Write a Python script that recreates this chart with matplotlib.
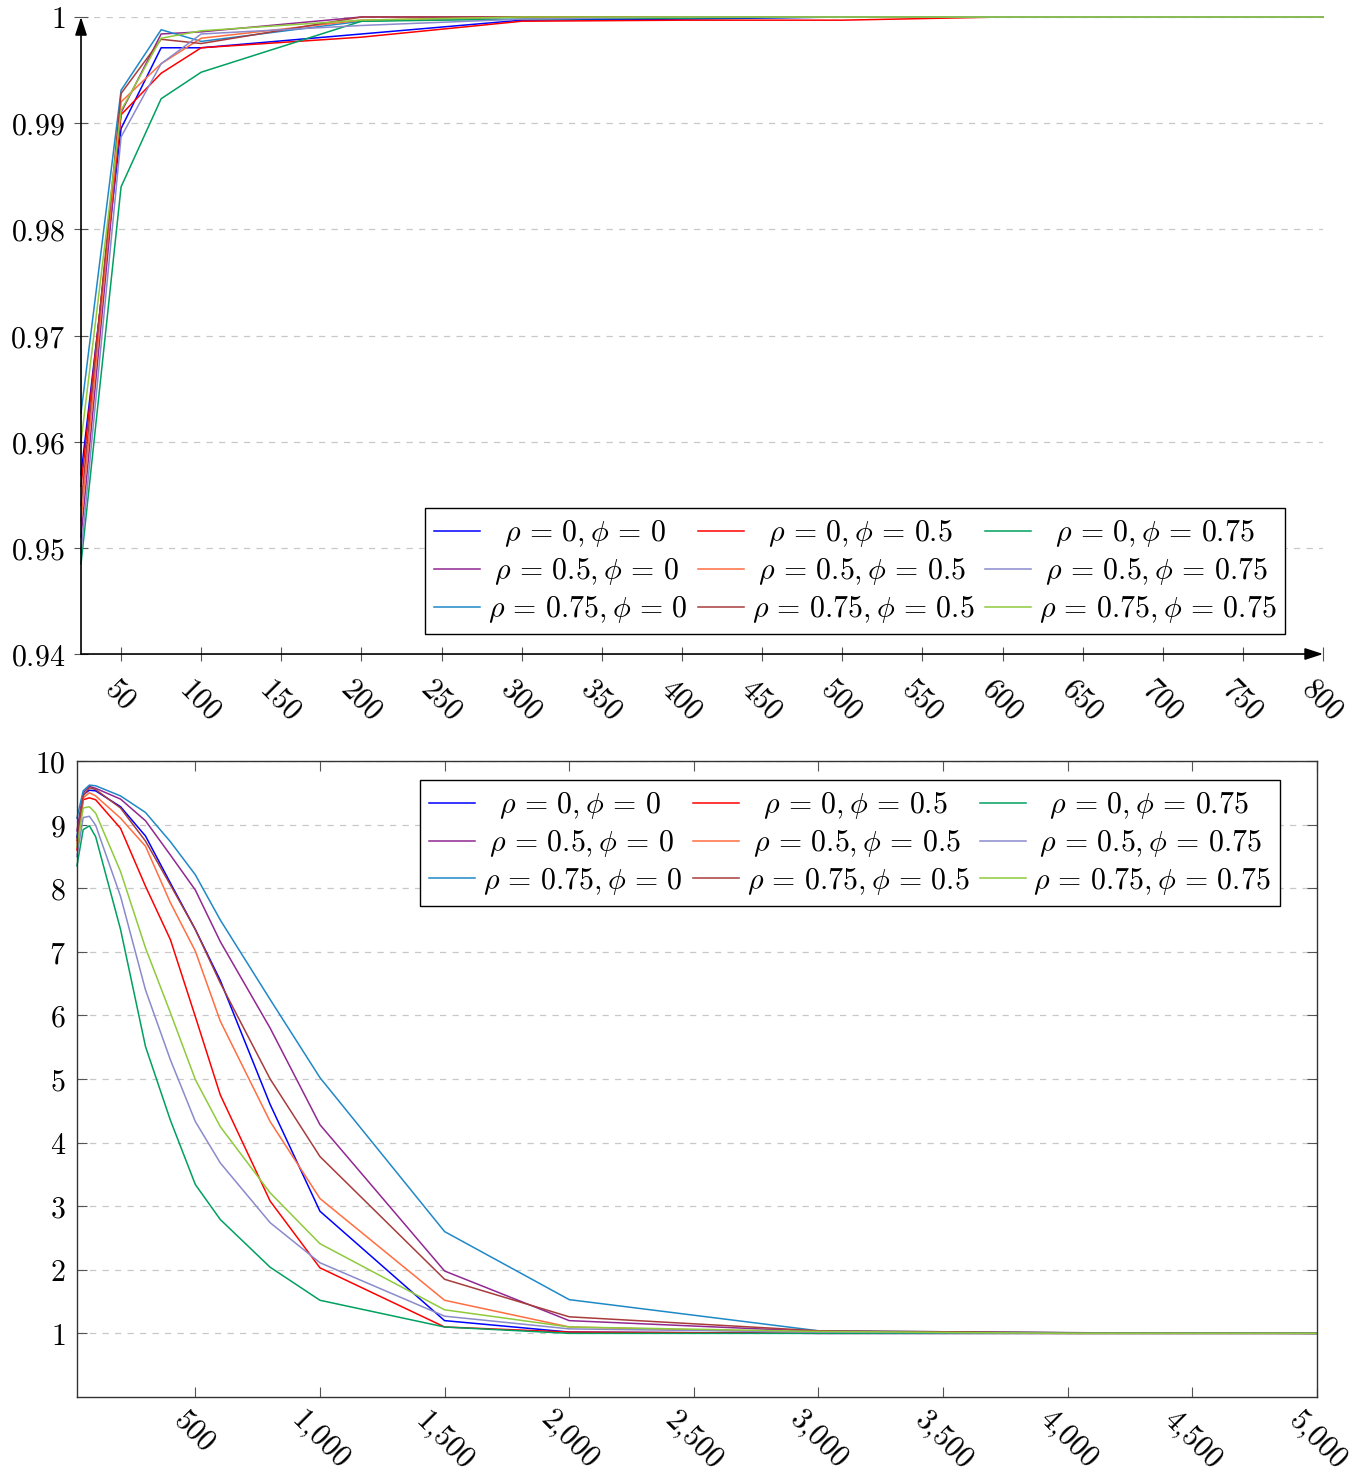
import matplotlib.pyplot as plt
from matplotlib.ticker import FuncFormatter

plt.rcParams['mathtext.fontset'] = 'cm'

rhos = [0, 0.5, 0.75]
phis = [0, 0.5, 0.75]

# upper panel: values reaching 1 as n grows
n_top = [25, 50, 75, 100, 200, 300, 400, 500, 600, 700, 800]
top_0_0 = [0.9569, 0.9895, 0.9971, 0.9971, 0.9984, 0.9997, 0.9998, 1, 1, 1, 1]
top_0_05 = [0.9558, 0.9908, 0.9947, 0.9971, 0.9981, 0.9996, 0.9997, 0.9997, 1, 1, 1]
top_0_075 = [0.9485, 0.984, 0.9923, 0.9948, 0.9996, 0.9998, 0.9999, 1, 1, 1, 1]
top_05_0 = [0.951, 0.9910, 0.9984, 0.9986, 1, 1, 1, 1, 1, 1, 1]
top_05_05 = [0.9525, 0.9920, 0.9956, 0.9980, 0.9997, 1, 1, 1, 1, 1, 1]
top_05_075 = [0.9495, 0.9887, 0.9956, 0.9984, 0.9992, 0.9998, 1, 1, 1, 1, 1]
top_075_0 = [0.9627, 0.9931, 0.9988, 0.9977, 0.9996, 1, 1, 1, 1, 1, 1]
top_075_05 = [0.954, 0.9928, 0.9979, 0.9975, 1, 1, 1, 1, 1, 1, 1]
top_075_075 = [0.9600, 0.9912, 0.9980, 0.9987, 0.9997, 1, 1, 1, 1, 1, 1]

# lower panel
n_bot = [25, 50, 75, 100, 200, 300, 400, 500, 600, 800, 1000, 1500, 2000, 3000, 4000, 5000]
bot_0_0 = [8.8, 9.47, 9.54, 9.53, 9.28, 8.82, 8.08, 7.35, 6.55, 4.6, 2.92, 1.20, 1.02, 1.0, 1.0, 1.0]
bot_0_05 = [8.6, 9.39, 9.42, 9.39, 8.94, 8.03, 7.19, 5.98, 4.75, 3.08, 2.03, 1.10, 1.02, 1.0, 1.0, 1.0]
bot_0_075 = [8.35, 8.92, 8.98, 8.81, 7.35, 5.51, 4.35, 3.34, 2.79, 2.04, 1.52, 1.10, 1.0, 1.0, 1.0, 1.0]
bot_05_0 = [8.9, 9.5, 9.60, 9.57, 9.40, 9.06, 8.52, 7.97, 7.16, 5.8, 4.28, 1.98, 1.20, 1.03, 1.01, 1.0]
bot_05_05 = [8.7, 9.42, 9.50, 9.45, 9.10, 8.66, 7.77, 7.01, 5.91, 4.33, 3.12, 1.52, 1.10, 1.01, 1.0, 1.0]
bot_05_075 = [8.5, 9.11, 9.13, 8.99, 7.87, 6.40, 5.30, 4.33, 3.68, 2.74, 2.11, 1.27, 1.07, 1.02, 1.0, 1.0]
bot_075_0 = [9.1, 9.53, 9.62, 9.61, 9.45, 9.19, 8.73, 8.21, 7.50, 6.25, 5.02, 2.60, 1.53, 1.04, 1.01, 1.0]
bot_075_05 = [8.75, 9.45, 9.58, 9.55, 9.26, 8.74, 8.05, 7.35, 6.51, 5.0, 3.78, 1.85, 1.26, 1.04, 1.01, 1.0]
bot_075_075 = [8.65, 9.26, 9.28, 9.18, 8.26, 7.06, 6.04, 4.99, 4.25, 3.21, 2.41, 1.37, 1.10, 1.03, 1.0, 1.0]

top = {(0, 0): top_0_0, (0, 0.5): top_0_05, (0, 0.75): top_0_075,
       (0.5, 0): top_05_0, (0.5, 0.5): top_05_05, (0.5, 0.75): top_05_075,
       (0.75, 0): top_075_0, (0.75, 0.5): top_075_05, (0.75, 0.75): top_075_075}
bot = {(0, 0): bot_0_0, (0, 0.5): bot_0_05, (0, 0.75): bot_0_075,
       (0.5, 0): bot_05_0, (0.5, 0.5): bot_05_05, (0.5, 0.75): bot_05_075,
       (0.75, 0): bot_075_0, (0.75, 0.5): bot_075_05, (0.75, 0.75): bot_075_075}

colors = {(0, 0): '#0000ff', (0, 0.5): '#ff0000', (0, 0.75): '#00a060',
          (0.5, 0): '#912891', (0.5, 0.5): '#ff6e40', (0.5, 0.75): '#8a8acc',
          (0.75, 0): '#1f88c8', (0.75, 0.5): '#a83c3c', (0.75, 0.75): '#8fca3c'}

# shift shorter labels right so they sit centred in their legend column
label_shift = {0: 0.62, 0.5: 0.24, 0.75: 0}

FS = 21.5
GRID = dict(color='#c8c8c8', linestyle=(0, (5, 5)), linewidth=0.9)


def label(rho, phi):
    eq = r'\hspace{0.16}=\hspace{0.16}'
    return r'$\hspace{%g}\rho%s%g, \phi%s%g$' % (label_shift[rho], eq, rho, eq, phi)


def draw_lines(ax, n, data):
    # columns of the legend run over phi, rows over rho
    for phi in phis:
        for rho in rhos:
            ax.plot(n, data[(rho, phi)], color=colors[(rho, phi)], lw=1.1,
                    clip_on=False, label=label(rho, phi))


def add_legend(ax, loc, anchor):
    leg = ax.legend(ncol=3, loc=loc, bbox_to_anchor=anchor, borderaxespad=0,
                    fontsize=FS, fancybox=False, edgecolor='black', framealpha=1,
                    handlelength=1.55, handletextpad=0.25, columnspacing=0.35,
                    borderpad=0.3, labelspacing=0.2)
    leg.get_frame().set_linewidth(1.0)


fig = plt.figure(figsize=(13.57, 14.77), dpi=100)

# --- upper panel ---
ax1 = fig.add_axes([0.0597, 0.5572, 0.9153, 0.4313])
draw_lines(ax1, n_top, top)
ax1.set_xlim(25, 800)
ax1.set_ylim(0.94, 1)
ax1.set_xticks(range(50, 801, 50))
ax1.set_yticks([0.94, 0.95, 0.96, 0.97, 0.98, 0.99, 1.0])
ax1.xaxis.set_major_formatter(FuncFormatter(lambda v, p: '$%d$' % v))
ax1.yaxis.set_major_formatter(FuncFormatter(lambda v, p: '$%g$' % round(v, 2)))
ax1.yaxis.grid(True, **GRID)
ax1.set_axisbelow(True)
for s in ax1.spines.values():
    s.set_visible(False)
ax1.tick_params(direction='inout', length=10, width=0.8, color='#555555', labelsize=FS)
ax1.tick_params(axis='x', labelrotation=-45, pad=9)
ax1.tick_params(axis='y', pad=6.5)
arrow = dict(arrowstyle='-|>,head_length=0.55,head_width=0.18', color='black',
             lw=1.2, shrinkA=0, shrinkB=0, mutation_scale=20)
ax1.annotate('', xy=(1, 0), xytext=(0, 0), xycoords='axes fraction', arrowprops=arrow)
ax1.annotate('', xy=(0, 1), xytext=(0, 0), xycoords='axes fraction', arrowprops=arrow)
add_legend(ax1, 'lower right', (0.9694, 0.0314))

# --- lower panel ---
ax2 = fig.add_axes([0.0567, 0.0542, 0.9138, 0.4306])
draw_lines(ax2, n_bot, bot)
ax2.set_xlim(25, 5000)
ax2.set_ylim(0, 10)
ax2.set_xticks(range(500, 5001, 500))
ax2.set_yticks(range(1, 11))
ax2.xaxis.set_major_formatter(FuncFormatter(lambda v, p: '$' + format(int(v), ',').replace(',', '{,}') + '$'))
ax2.yaxis.set_major_formatter(FuncFormatter(lambda v, p: '$%d$' % v))
ax2.yaxis.grid(True, **GRID)
ax2.set_axisbelow(True)
for s in ax2.spines.values():
    s.set_linewidth(1.0)
    s.set_color('#333333')
ax2.tick_params(direction='in', length=7, width=0.8, color='#555555', labelsize=FS,
                top=True, right=True)
ax2.tick_params(axis='x', labelrotation=-45, pad=5)
ax2.tick_params(axis='y', pad=8)
add_legend(ax2, 'upper right', (0.9702, 0.970))

fig.savefig('out.png', dpi=100)
